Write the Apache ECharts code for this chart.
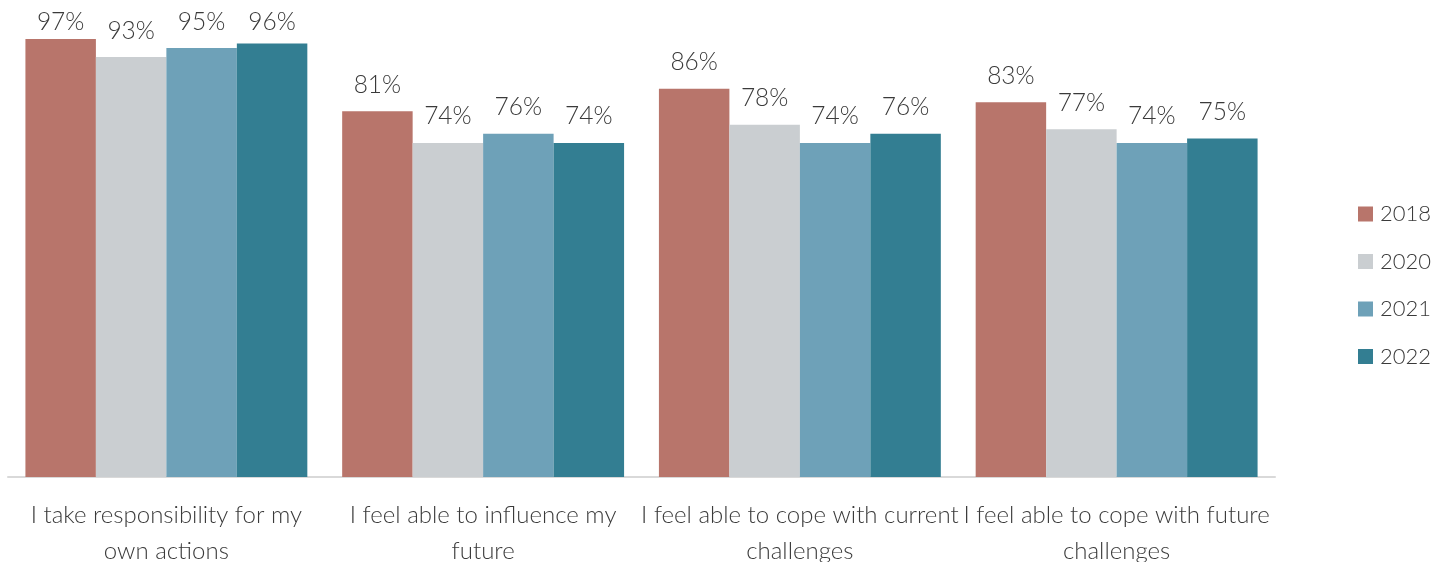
<!DOCTYPE html>
<html>
<head>
<meta charset="utf-8">
<script src="https://cdn.jsdelivr.net/npm/echarts@6/dist/echarts.min.js"></script>
<style>
  html, body { margin: 0; padding: 0; background: #fff; }
  #chart { width: 1444px; height: 562px; }
</style>
</head>
<body>
<div id="chart"></div>
<script>
const categories = [
  'I take responsibility for my\nown actions',
  'I feel able to influence my\nfuture',
  'I feel able to cope with current\nchallenges',
  'I feel able to cope with future\nchallenges'
]
const years = ['2018', '2020', '2021', '2022']
const v2018 = [97, 81, 86, 83]
const v2020 = [93, 74, 78, 77]
const v2021 = [95, 76, 74, 74]
const v2022 = [96, 74, 76, 75]
const colors = ['#B8756B', '#CACED1', '#6EA1B8', '#337E92']

const chart = echarts.init(document.getElementById('chart'))
const font = 'Lato, "Open Sans", sans-serif'
const seriesData = [v2018, v2020, v2021, v2022]

chart.setOption({
  animation: false,
  textStyle: { fontFamily: font },
  grid: { left: 8, right: 169, top: 25.5, bottom: 85, outerBoundsMode: 'none', containLabel: false },
  legend: {
    orient: 'vertical',
    left: 1353,
    top: 198,
    icon: 'rect',
    itemWidth: 15,
    itemHeight: 15,
    itemGap: 25.5,
    textStyle: { fontSize: 22, color: '#3a3a3a', fontWeight: 300, fontFamily: font, padding: [0, 0, 0, 2] },
    data: years
  },
  xAxis: {
    type: 'category',
    data: categories,
    axisLine: { lineStyle: { color: '#d9d9d9', width: 2 } },
    axisTick: { show: false },
    axisLabel: {
      fontSize: 24,
      color: '#3a3a3a',
      fontWeight: 300,
      fontFamily: font,
      lineHeight: 36,
      margin: 20,
      interval: 0
    }
  },
  yAxis: {
    type: 'value',
    min: 0,
    max: 100,
    show: false
  },
  series: years.map((y, i) => ({
    name: y,
    type: 'bar',
    data: seriesData[i],
    barGap: '0%',
    barCategoryGap: '11%',
    itemStyle: { color: colors[i] },
    label: {
      show: true,
      position: 'top',
      distance: 14,
      formatter: '{c}%',
      fontSize: 24.5,
      fontWeight: 300,
      color: '#3a3a3a',
      fontFamily: font
    },
    // keep labels from running off the top edge
    labelLayout: function (params) {
      const r = params.labelRect
      return { dy: Math.max(0, 10 - r.y) }
    }
  }))
})
</script>
</body>
</html>
